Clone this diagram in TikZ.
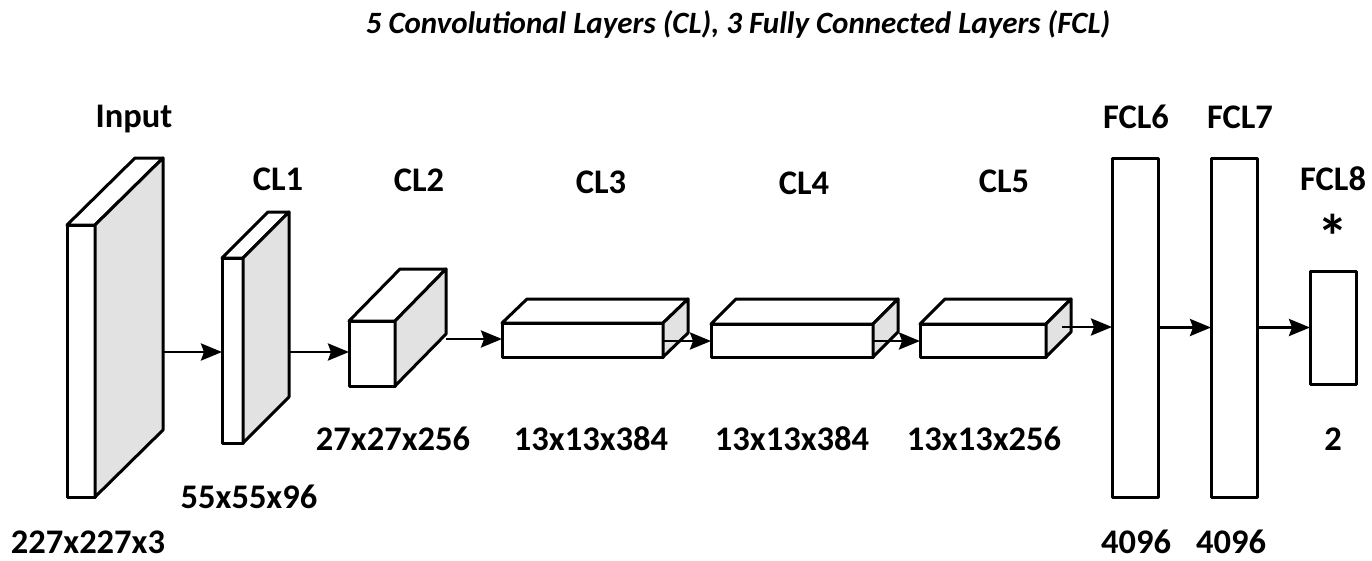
\documentclass[tikz,border=0pt]{standalone}
\usepackage{fontspec}
\setmainfont{Carlito}
\usetikzlibrary{calc,arrows.meta}
\newcommand\lbl[1]{\fontsize{34.5}{40}\selectfont\bfseries #1}
% \layerbox{name}{x1}{y1}{x2}{y2}{dx}{dy}
\newcommand\layerbox[7]{%
  \node[face, minimum width={(#4-#2)*1pt}, minimum height={(#5-#3)*1pt}] (#1) at ({(#2+#4)/2},{(#3+#5)/2}) {};
  \draw[facedraw, fill=white] (#1.north west) -- ++(#6,#7) -- ($(#1.north east)+(#6,#7)$) -- (#1.north east) -- cycle;
  \draw[facedraw, fill=sidegray] (#1.north east) -- ++(#6,#7) -- ($(#1.south east)+(#6,#7)$) -- (#1.south east) -- cycle;
}
\definecolor{sidegray}{HTML}{E2E2E2}
\begin{document}
\begin{tikzpicture}[x=1pt,y=-1pt,
  face/.style={draw, line width=3pt, fill=white, rectangle, inner sep=0pt, outer sep=0pt, line join=round},
  facedraw/.style={draw, line width=3pt, line join=round},
  fcbox/.style={face},
  conn/.style={line width=2.8pt, -{Stealth[length=21pt,width=17pt,inset=3pt]}},
  txt/.style={anchor=base, inner sep=0pt, font=\lbl{}}
]
\useasboundingbox[fill=white] (0,0) rectangle (1372,560);

% title
\node[anchor=base, inner sep=0pt, font=\fontsize{31}{36}\selectfont\bfseries\itshape] (title) at (738,33)
  {5 Convolutional Layers (CL), 3 Fully Connected Layers (FCL)};

% layers
\layerbox{in}{67}{225}{95}{497}{68}{-67}
\layerbox{cl1}{222}{258}{243}{443}{46}{-46}
\layerbox{cl2}{349}{321}{395}{386}{51}{-52}
\layerbox{cl3}{502}{323}{663}{357}{25}{-24}
\layerbox{cl4}{711}{324}{873}{357}{25}{-25}
\layerbox{cl5}{920}{324}{1046}{357}{25}{-25}
\node[fcbox, minimum width=46pt, minimum height=339pt] (fc6) at (1135,327.5) {};
\node[fcbox, minimum width=46pt, minimum height=339pt] (fc7) at (1234,327.5) {};
\node[fcbox, minimum width=46pt, minimum height=113pt] (fc8) at (1333,327.5) {};

% connector start points
\coordinate (in-out) at (163,352);
\coordinate (cl1-out) at (289,352);
\coordinate (cl2-out) at (446,339);
\coordinate (cl3-out) at (663,341);
\coordinate (cl4-out) at (873,341);
\coordinate (cl5-out) at (1062,327);

\draw[conn] (in-out) -- (in-out -| cl1.west);
\draw[conn] (cl1-out) -- (cl1-out -| cl2.west);
\draw[conn] (cl2-out) -- (cl2-out -| cl3.west);
\draw[conn] (cl3-out) -- (cl3-out -| cl4.west);
\draw[conn] (cl4-out) -- (cl4-out -| cl5.west);
\draw[conn] (cl5-out) -- (cl5-out -| fc6.west);
\draw[conn] (fc6.east) -- (fc7.west);
\draw[conn] (fc7.east) -- (fc8.west);

% top labels
\node[txt] (t-in) at (134,127) {Input};
\node[txt] (t-cl1) at (278,190) {CL1};
\node[txt] (t-cl2) at (419,191) {CL2};
\node[txt] (t-cl3) at (601,193) {CL3};
\node[txt] (t-cl4) at (804,194) {CL4};
\node[txt] (t-cl5) at (1004,192) {CL5};
\node[txt] (t-fc6) at (1136,128) {FCL6};
\node[txt] (t-fc7) at (1240,128) {FCL7};
\node[txt] (t-fc8) at (1333,190) {FCL8};
\node[anchor=base, inner sep=0pt, font=\fontsize{62}{70}\selectfont\bfseries] (t-star) at (1333,258) {*};

% bottom labels
\node[txt] (b-in) at (88,553) {227x227x3};
\node[txt] (b-cl1) at (249,508) {55x55x96};
\node[txt] (b-cl2) at (393,450) {27x27x256};
\node[txt] (b-cl3) at (591,450) {13x13x384};
\node[txt] (b-cl4) at (792,450) {13x13x384};
\node[txt] (b-cl5) at (984,450) {13x13x256};
\node[txt] (b-fc8) at (1333,450) {2};
\node[txt] (b-fc6) at (1136,553) {4096};
\node[txt] (b-fc7) at (1231,553) {4096};
\end{tikzpicture}
\end{document}
